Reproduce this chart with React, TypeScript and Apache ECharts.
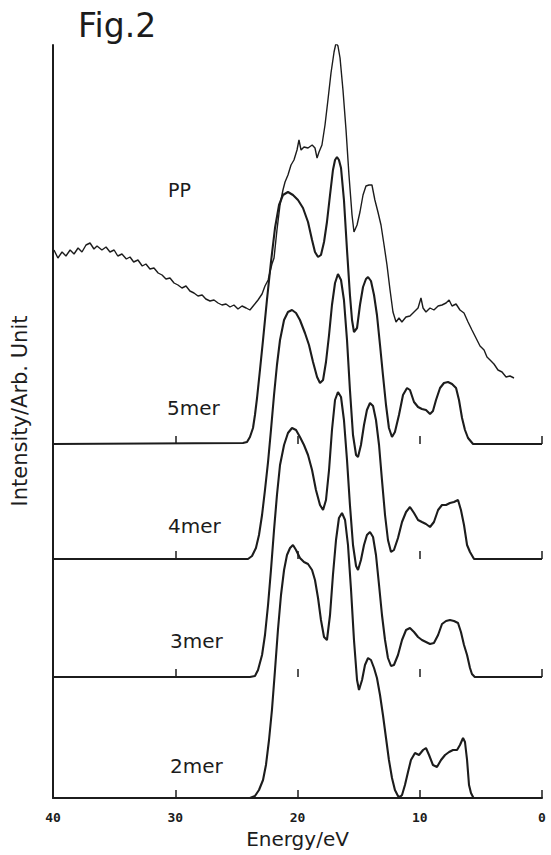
import React, { useEffect, useRef } from "react";
import * as echarts from "echarts";

// Energy (eV) vs intensity (arb. units)
const PP: [number, number][] = [
  [39.92,138],[39.6,130],[39.26,136],[38.94,132],[38.6,138],[38.28,134],[37.95,140],[37.63,136],[37.3,143],[36.97,145],
  [36.65,139],[36.4,142],[36.0,138],[35.66,141],[35.34,136],[35.0,138],[34.7,132],[34.36,134],[34.0,129],[33.7,131],
  [33.4,126],[33.05,128],[32.7,122],[32.4,124],[32.07,119],[31.74,120],[31.4,115],[31.08,113],[30.76,109],[30.43,110],
  [30.1,105],[29.78,103],[29.45,100],[29.12,102],[28.8,97],[28.47,95],[28.14,92],[27.8,93],[27.5,89],[27.16,87],
  [26.83,88],[26.5,85],[26.18,83],[25.85,84],[25.52,81],[25.2,83],[24.87,79],[24.54,82],[24.2,80],[23.89,78],
  [23.56,83],[23.23,88],[22.9,94],[22.66,102],[22.4,108],[22.25,116],[22.09,124],[21.92,130],[21.68,158],[21.43,183],
  [21.19,198],[21.02,206],[20.78,213],[20.53,223],[20.29,228],[20.04,238],[19.88,248],[19.71,238],[19.47,241],[19.14,240],
  [18.8,243],[18.57,240],[18.4,230],[18.24,236],[18.0,243],[17.75,263],[17.51,288],[17.26,315],[17.01,336],[16.85,345],
  [16.69,342],[16.52,330],[16.28,298],[16.03,258],[15.79,213],[15.54,173],[15.38,156],[15.13,163],[14.89,176],[14.64,193],
  [14.4,202],[14.15,203],[13.91,203],[13.67,188],[13.42,176],[13.17,163],[12.92,143],[12.68,123],[12.43,98],[12.19,76],
  [11.94,66],[11.7,70],[11.46,66],[11.13,71],[10.8,72],[10.47,76],[10.14,80],[9.9,90],[9.73,80],[9.49,76],
  [9.16,80],[8.84,78],[8.5,82],[8.18,83],[7.85,85],[7.6,88],[7.36,82],[7.03,84],[6.71,78],[6.38,75],
  [6.05,66],[5.73,58],[5.4,50],[5.07,42],[4.74,38],[4.5,31],[4.25,28],[3.93,24],[3.6,18],[3.27,16],
  [2.94,11],[2.62,12],[2.29,10]
];

const MER5: [number, number][] = [
  [40,0],[24.46,1],[24.13,2],[23.89,7],[23.64,16],[23.48,29],[23.31,46],[23.07,74],[22.82,104],[22.5,144],
  [22.17,182],[21.84,216],[21.51,239],[21.19,249],[20.78,252],[20.37,249],[19.96,244],[19.55,236],[19.14,222],[18.81,204],
  [18.57,192],[18.32,187],[18.08,189],[17.83,202],[17.59,222],[17.34,249],[17.1,274],[16.93,284],[16.77,287],[16.61,284],
  [16.44,276],[16.2,244],[15.95,194],[15.71,149],[15.54,124],[15.38,112],[15.13,116],[14.89,139],[14.64,157],[14.4,165],
  [14.23,167],[13.99,163],[13.74,149],[13.5,129],[13.25,99],[13.01,69],[12.76,39],[12.52,16],[12.27,7],[12.03,12],
  [11.7,29],[11.37,49],[11.04,56],[10.8,54],[10.47,42],[10.14,37],[9.82,35],[9.49,34],[9.16,30],[8.92,33],
  [8.67,44],[8.34,56],[8.02,61],[7.69,62],[7.36,60],[7.03,56],[6.79,44],[6.54,26],[6.3,14],[6.05,6],
  [5.64,0],[0,0]
];

const MER4: [number, number][] = [
  [40,0],[24.05,0],[23.72,3],[23.4,11],[23.15,24],[22.9,44],[22.66,69],[22.41,97],[22.17,129],[21.92,164],
  [21.68,194],[21.43,219],[21.1,239],[20.78,247],[20.45,249],[20.12,246],[19.8,239],[19.39,226],[19.06,214],[18.73,197],
  [18.4,182],[18.16,176],[17.91,179],[17.67,197],[17.42,224],[17.18,254],[16.93,276],[16.69,285],[16.44,279],[16.2,259],
  [15.95,219],[15.71,169],[15.46,124],[15.21,104],[15.05,102],[14.81,114],[14.56,134],[14.32,149],[14.07,156],[13.82,153],
  [13.58,139],[13.33,114],[13.09,79],[12.84,44],[12.6,19],[12.35,7],[12.11,9],[11.78,21],[11.45,37],[11.12,47],
  [10.8,52],[10.47,46],[10.14,39],[9.82,37],[9.49,35],[9.16,32],[8.84,37],[8.5,49],[8.18,54],[7.85,54],
  [7.53,56],[7.2,57],[6.87,59],[6.63,49],[6.38,34],[6.13,14],[5.89,7],[5.56,0],[0,0]
];

const MER3: [number, number][] = [
  [40,0],[23.89,0],[23.48,1],[23.23,7],[22.9,22],[22.66,42],[22.41,72],[22.17,107],[21.92,147],[21.68,182],
  [21.43,212],[21.1,232],[20.78,244],[20.45,249],[20.12,247],[19.8,240],[19.47,232],[19.14,222],[18.81,207],[18.49,187],
  [18.16,172],[17.91,167],[17.67,177],[17.42,207],[17.18,247],[16.93,277],[16.69,285],[16.44,280],[16.2,257],[15.95,217],
  [15.71,172],[15.46,132],[15.21,111],[15.05,107],[14.81,117],[14.56,132],[14.32,142],[14.07,145],[13.82,140],[13.58,122],
  [13.33,92],[13.09,62],[12.84,37],[12.6,19],[12.35,11],[12.11,12],[11.78,22],[11.45,37],[11.12,47],[10.8,49],
  [10.47,45],[10.14,40],[9.82,37],[9.49,35],[9.16,33],[8.84,34],[8.5,42],[8.18,53],[7.85,56],[7.53,57],
  [7.2,56],[6.87,54],[6.63,45],[6.38,32],[6.13,22],[5.89,9],[5.73,3],[5.5,0],[0,0]
];

const MER2: [number, number][] = [
  [40,0],[23.89,0],[23.48,2],[23.15,8],[22.82,18],[22.58,33],[22.33,58],[22.09,88],[21.84,128],[21.6,168],
  [21.35,203],[21.1,228],[20.86,243],[20.61,250],[20.37,253],[20.12,248],[19.8,240],[19.47,236],[19.14,234],[18.81,228],
  [18.57,218],[18.32,200],[18.08,178],[17.83,161],[17.59,158],[17.34,183],[17.1,223],[16.85,258],[16.61,280],[16.36,285],
  [16.11,278],[15.87,253],[15.62,208],[15.38,158],[15.13,118],[14.97,108],[14.72,118],[14.48,133],[14.23,140],[13.99,138],
  [13.74,130],[13.5,120],[13.25,103],[13.01,83],[12.76,60],[12.52,38],[12.27,20],[12.03,8],[11.78,2],[11.62,1],
  [11.45,3],[11.21,13],[10.96,26],[10.72,38],[10.39,45],[10.06,43],[9.73,48],[9.49,50],[9.24,43],[8.92,33],
  [8.59,31],[8.26,38],[7.93,43],[7.6,46],[7.28,48],[6.95,48],[6.71,53],[6.46,60],[6.3,56],[6.13,38],
  [5.97,13],[5.81,5],[5.6,0],[0,0]
];

const SERIES_NAMES = ["PP", "5mer", "4mer", "3mer", "2mer"];
const SERIES_DATA = [PP, MER5, MER4, MER3, MER2];
const X_TICKS = [40, 30, 20, 10, 0];
const X_TITLE = "Energy/eV";
const Y_TITLE = "Intensity/Arb. Unit";

// vertical stacking offsets (same units as intensity)
const OFFSETS = [410, 354, 239, 121, 0];
const Y_MAX = 753;

const INK = "#1c1c1c";

export default function App() {
  const ref = useRef<HTMLDivElement>(null);
  useEffect(() => {
    document.body.style.margin = "0";
    if (!ref.current) return;
    const chart = echarts.init(ref.current, null, { renderer: "svg" });

    const L = 53, R = 9;
    const baselineBottoms = [57, 178, 296, 411]; // 2mer, 3mer, 4mer, 5mer baselines
    const grids = baselineBottoms.map((b, i) =>
      i === 0 ? { left: L, right: R, top: 45, bottom: b } : { left: L, right: R, bottom: b, height: 10 }
    );

    const xAxes = baselineBottoms.map((_, i) => ({
      type: "value",
      gridIndex: i,
      min: 0,
      max: 40,
      interval: 10,
      inverse: true,
      axisLine: { show: i === 0, onZero: false, lineStyle: { color: INK, width: 2 } },
      axisTick: { show: true, inside: true, length: 8, lineStyle: { color: INK, width: 1.5 } },
      axisLabel: {
        show: i === 0,
        margin: 13,
        color: INK,
        fontFamily: "DejaVu Sans Mono",
        fontWeight: "bold",
        fontSize: 13,
        formatter: (v: number) => (X_TICKS.includes(v) ? String(v) : ""),
      },
      splitLine: { show: false },
      name: i === 0 ? X_TITLE : "",
      nameLocation: "middle",
      nameGap: 30,
      nameTextStyle: { color: INK, fontFamily: "DejaVu Sans", fontSize: 20 },
    }));

    const yAxes = baselineBottoms.map((_, i) =>
      i === 0
        ? {
            type: "value",
            gridIndex: 0,
            min: 0,
            max: Y_MAX,
            position: "left",
            axisLine: { show: true, onZero: false, lineStyle: { color: INK, width: 2 } },
            axisTick: { show: false },
            axisLabel: { show: false },
            splitLine: { show: false },
          }
        : { type: "value", gridIndex: i, show: false, min: 0, max: 1 }
    );

    const series = SERIES_DATA.map((d, i) => ({
      type: "line",
      name: SERIES_NAMES[i],
      xAxisIndex: 0,
      yAxisIndex: 0,
      showSymbol: false,
      symbol: "none",
      data: d.map(([e, v]) => [e, v + OFFSETS[i]]),
      lineStyle: { color: INK, width: i === 0 ? 1.4 : 2.1 },
      z: 3,
    }));

    const labelPos = [
      { left: 168, top: 180 },
      { left: 167, top: 398 },
      { left: 168, top: 516 },
      { left: 170, top: 631 },
      { left: 170, top: 756 },
    ];

    const graphics: any[] = SERIES_NAMES.map((n, i) => ({
      type: "text",
      left: labelPos[i].left,
      top: labelPos[i].top,
      style: { text: n, font: (i === 0 ? "19px" : "20px") + " 'DejaVu Sans'", fill: INK },
    }));
    graphics.push({
      type: "text",
      x: 20,
      y: 411,
      rotation: Math.PI / 2,
      style: {
        text: Y_TITLE,
        font: "21px 'DejaVu Sans'",
        fill: INK,
        align: "center",
        verticalAlign: "middle",
      },
    });

    chart.setOption({
      animation: false,
      backgroundColor: "#ffffff",
      title: {
        text: "Fig.2",
        left: 73,
        top: 4,
        textStyle: { color: INK, fontFamily: "DejaVu Sans", fontSize: 33, fontWeight: "normal" },
      },
      grid: grids,
      xAxis: xAxes,
      yAxis: yAxes,
      series,
      graphic: graphics,
    });
    return () => chart.dispose();
  }, []);
  return <div ref={ref} style={{ width: 551, height: 855 }} />;
}
